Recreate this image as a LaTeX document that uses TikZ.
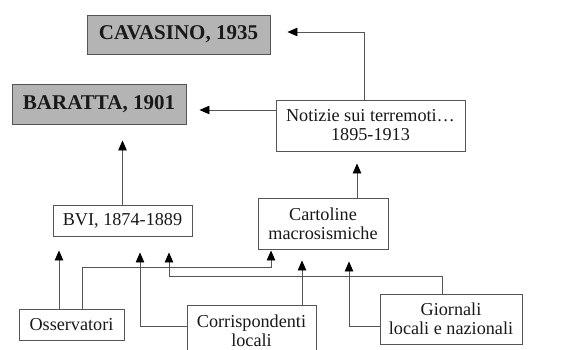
\documentclass[tikz,border=0pt]{standalone}
\usepackage{fontspec}
\setmainfont{Liberation Serif}
\usepackage{xcolor}
\usepackage{tikz}
\usetikzlibrary{arrows.meta,calc}

\definecolor{boxgray}{RGB}{180,180,180}
\definecolor{linegray}{RGB}{85,85,85}

\begin{document}
\begin{tikzpicture}[x=1pt,y=-1pt,
  src/.style={draw=linegray,line width=0.9pt,fill=white,align=center,inner sep=0pt,
              text=black!90,font=\fontsize{18.2}{19}\selectfont},
  cat/.style={draw=linegray,line width=0.9pt,fill=boxgray,inner sep=0pt,
              text=black!90,font=\fontsize{21}{23}\selectfont\bfseries},
  arr/.style={-{Triangle[length=10pt,width=8.5pt,color=black,fill=black]},line width=0.9pt,draw=linegray}]
\clip (0,0) rectangle (577,349);
\fill[white] (0,0) rectangle (577,349);
\node[cat,minimum width=183pt,minimum height=39pt] (cav) at (178.5,34.5) {CAVASINO, 1935};
\node[cat,minimum width=174pt,minimum height=40pt] (bar) at (99,104) {BARATTA, 1901};
\node[src,minimum width=189pt,minimum height=51pt] (notz) at (370.5,125.5) {Notizie sui terremoti\dots\\1895-1913};
\node[src,minimum width=139pt,minimum height=31pt] (bvi) at (122.5,220.5) {BVI, 1874-1889};
\node[src,minimum width=130pt,minimum height=51pt] (cart) at (323,223.5) {Cartoline\\macrosismiche};
\node[src,minimum width=105pt,minimum height=31pt] (oss) at (71.5,324.5) {Osservatori};
\node[src,minimum width=129pt,minimum height=51pt] (corr) at (251.5,330.5) {Corrispondenti\\locali};
\node[src,minimum width=142pt,minimum height=50pt] (gio) at (451,319) {Giornali\\locali e nazionali};
% towards the catalogues
\draw[arr] ($(notz.north)+(-6.5,0)$) |- ($(cav.east)+(17,-2.5)$);
\draw[arr] ($(notz.west)+(0,-15.5)$) -- ($(bar.east)+(13,6)$);
\draw[arr] (bvi.north) -- ($(bvi.north |- bar.south)+(0,16)$);
\draw[arr] ($(cart.north)+(34,0)$) -- ($(notz.south -| cart.north)+(34,12)$);
% sources
\draw[arr] ($(oss.north)+(-12.5,0)$) -- ($(bvi.south -| oss.north)+(-12.5,14)$);
\draw[arr] ($(oss.north)+(10.5,0)$) |- ($(cart.south)+(-52,18)$) -- ($(cart.south)+(-52,1)$);
\draw[arr] ($(corr.west)+(0,-4.5)$) -| ($(bvi.south)+(17.5,16)$);
\draw[arr] ($(corr.north)+(50.5,0)$) -- ($(cart.south)+(-21,11)$);
\draw[arr] ($(gio.north)+(-9,0)$) |- ($(bvi.south)+(46.5,40)$) -- ($(bvi.south)+(46.5,16)$);
\draw[arr] ($(gio.west)+(0,7)$) -| ($(cart.south)+(26,12)$);
\end{tikzpicture}
\end{document}
